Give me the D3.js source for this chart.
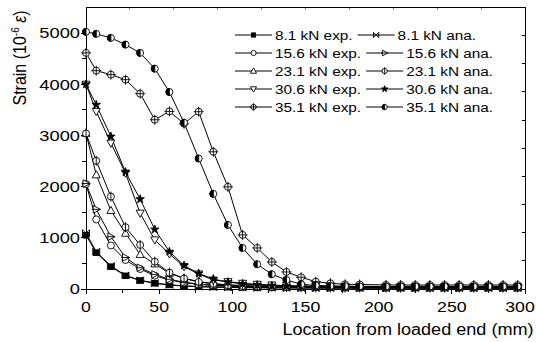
<!DOCTYPE html>
<html><head><meta charset="utf-8">
<script src="https://cdn.jsdelivr.net/npm/d3@7"></script>
<style>
body{margin:0;background:#fff}
svg{display:block}
text{font-family:"Liberation Sans",Arial,Helvetica,sans-serif;fill:#000}
</style>
</head><body>
<svg id="c" width="536" height="342"></svg>
<script>
// ---------------- data ----------------
const xPos = [0,7,17,27,37,47,57,67,77,87,97,107,117,127,137,147,157,167,177,187,205,215,225,235,245,255,265,275,285,295];

const s81exp  = [1050,710,436,258,166,112,80,60,48,40,35,30,28,26,25,24,23,22,21,20,20,20,20,20,20,20,20,20,20,20];
const s81ana  = [1090,730,450,265,170,115,80,58,45,36,30,26,23,21,20,19,18,17,16,15,15,15,15,15,15,15,15,15,15,15];
const s156exp = [2050,1360,851,567,391,260,175,125,95,75,62,54,48,44,40,38,36,34,32,30,30,30,30,30,30,30,30,30,30,30];
const s156ana = [2060,1556,1022,616,415,285,190,130,92,68,52,42,36,32,30,28,26,25,24,23,22,22,22,22,22,22,22,22,22,22];
const s231exp = [3040,2231,1533,1090,675,490,307,209,145,105,82,68,58,52,48,45,42,40,38,36,35,35,35,35,35,35,35,35,35,35];
const s231ana = [3040,2505,1806,1207,861,534,319,205,140,100,75,58,48,42,38,35,33,31,30,29,28,28,28,28,28,28,28,28,28,28];
const s306exp = [4000,3470,2851,2264,1482,959,685,437,294,176,143,112,92,78,68,60,55,52,50,48,45,45,45,45,45,45,45,45,45,45];
const s306ana = [4000,3600,2980,2284,1755,1164,730,460,303,195,135,100,78,64,55,48,44,41,39,37,35,35,35,35,35,35,35,35,35,35];
const s351exp = [4613,4266,4188,4090,3816,3307,3470,3229,3464,2681,1996,1057,802,528,333,229,143,112,92,88,80,78,78,78,78,78,78,78,78,78];
const s351ana = [5024,4985,4906,4775,4613,4305,3849,3249,2550,1859,1252,802,483,288,176,92,70,60,55,52,50,50,50,50,50,50,50,50,50,50];

const seriesNames = ["8.1 kN exp.","8.1 kN ana.","15.6 kN exp.","15.6 kN ana.","23.1 kN exp.","23.1 kN ana.","30.6 kN exp.","30.6 kN ana.","35.1 kN exp.","35.1 kN ana."];
const seriesValues = [s81exp,s81ana,s156exp,s156ana,s231exp,s231ana,s306exp,s306ana,s351exp,s351ana];
const seriesMarkers = ["square","bowtie","circle","rtri","utri","phi","dtri","star","crosscircle","halfcircle"];

const xTickLabels = [0,50,100,150,200,250,300];
const xMinorTicks = [25,75,125,175,225,275];
const yTickLabels = [0,1000,2000,3000,4000,5000];
const yMinorTicks = [500,1500,2500,3500,4500];
const xTitle = "Location from loaded end (mm)";

// ---------------- layout ----------------
const svg = d3.select("#c");
const L = 86, R = 525, T = 7.5, B = 289;
const x = d3.scaleLinear().domain([0,300]).range([L,R]);
const y = d3.scaleLinear().domain([0,5500]).range([B,T]);

function stxt(g, px, py, str, size, sx, anchor){
  return g.append("text")
    .attr("transform",`translate(${px},${py}) scale(${sx},1)`)
    .attr("font-size",size).attr("text-anchor",anchor||"start").text(str);
}

// axes ticks
const ax = svg.append("g").attr("stroke","#000").attr("stroke-width",1).attr("shape-rendering","crispEdges");
ax.selectAll("line.xM").data(xTickLabels).join("line")
  .attr("x1",d=>x(d)).attr("x2",d=>x(d)).attr("y1",B).attr("y2",B+5);
ax.selectAll("line.xm").data(xMinorTicks).join("line").attr("class","xm")
  .attr("x1",d=>x(d)).attr("x2",d=>x(d)).attr("y1",B).attr("y2",B+4);
ax.selectAll("line.yM").data(yTickLabels).join("line").attr("class","yM")
  .attr("x1",L-5).attr("x2",L).attr("y1",d=>y(d)).attr("y2",d=>y(d));
ax.selectAll("line.ym").data(yMinorTicks).join("line").attr("class","ym")
  .attr("x1",L-4).attr("x2",L).attr("y1",d=>y(d)).attr("y2",d=>y(d));
const topTicks = d3.range(30,300,30);
const rightTicks = d3.range(550,5500,550);
ax.selectAll("line.tt").data(topTicks).join("line").attr("class","tt").attr("stroke","#888")
  .attr("x1",d=>x(d)).attr("x2",d=>x(d)).attr("y1",T).attr("y2",T+2);
ax.selectAll("line.rt").data(rightTicks).join("line").attr("class","rt")
  .attr("x1",R-3).attr("x2",R).attr("y1",d=>y(d)).attr("y2",d=>y(d));
ax.append("rect").attr("x",L).attr("y",T).attr("width",R-L).attr("height",B-T).attr("fill","none");

// tick labels
const tl = svg.append("g");
xTickLabels.forEach(d=>stxt(tl, Math.min(x(d), 520), 311.5, String(d), 15, 1.18, "middle"));
yTickLabels.forEach(d=>stxt(tl, 80, y(d)+5.3, String(d), 15, 1.22, "end"));

// titles
stxt(svg, 408, 335, xTitle, 16, 1.13, "middle");
const yt = svg.append("text").attr("transform","translate(25.5,58) scale(1.16,1) rotate(-90)")
  .attr("font-size",16).attr("text-anchor","middle");
yt.append("tspan").text("Strain (10");
yt.append("tspan").attr("font-size",10).attr("dy",-6).text("-6");
yt.append("tspan").attr("dy",6).text(" ");
yt.append("tspan").attr("font-style","italic").text("ε");
yt.append("tspan").text(")");

// markers
function marker(g, type, cx, cy, k){
  k = k || 1;
  const m = g.append("g").attr("transform",`translate(${cx},${cy}) scale(${k})`)
    .attr("stroke","#000").attr("stroke-width",0.9/k).attr("fill","#fff");
  const r = 3.5;
  switch(type){
    case "square": m.append("rect").attr("x",-2.8).attr("y",-2.8).attr("width",5.6).attr("height",5.6).attr("fill","#000"); break;
    case "bowtie": m.append("path").attr("fill","none").attr("d","M-3.5,-3.5L3.5,3.5M-3.5,3.5L3.5,-3.5M-3.5,-3.5L-3.5,3.5M3.5,-3.5L3.5,3.5"); break;
    case "circle": m.append("circle").attr("r",r); break;
    case "rtri": m.append("path").attr("d","M-3,-3.8L4.2,0L-3,3.8Z"); m.append("path").attr("d","M-4.5,0L4.2,0"); break;
    case "utri": m.append("path").attr("d","M0,-4.2L4,3L-4,3Z"); break;
    case "dtri": m.append("path").attr("d","M0,4.2L4,-3L-4,-3Z"); break;
    case "phi": m.append("circle").attr("r",r); m.append("path").attr("d","M0,-5L0,5"); break;
    case "star": m.append("path").attr("fill","#000").attr("d",d3.symbol(d3.symbolStar,22)()); break;
    case "crosscircle": m.append("circle").attr("r",r); m.append("path").attr("d","M-5,0L5,0M0,-5L0,5"); break;
    case "halfcircle":
      m.append("circle").attr("r",r);
      m.append("path").attr("fill","#000").attr("d",`M0,${-r}A${r},${r} 0 0 0 0,${r}Z`); break;
  }
}

// series
const line = d3.line().x((d,i)=>x(xPos[i])).y(d=>y(d));
const pg = svg.append("g");
seriesValues.forEach(vals=>{
  pg.append("path").attr("d",line(vals)).attr("fill","none").attr("stroke","#000").attr("stroke-width",1);
});
seriesValues.forEach((vals,k)=>{
  vals.forEach((v,i)=>marker(pg, seriesMarkers[k], x(xPos[i]), y(v)));
});

// legend
const lg = svg.append("g");
for(let row=0; row<5; row++){
  const cy = 35 + row*18;
  const iE = row*2, iA = row*2+1;
  lg.append("line").attr("x1",235).attr("x2",272).attr("y1",cy).attr("y2",cy).attr("stroke","#000");
  marker(lg, seriesMarkers[iE], 253.5, cy, 0.75);
  const t1 = stxt(lg, 275, cy+4.5, seriesNames[iE], 12, 1.28, "start");
  const w1 = t1.node().getComputedTextLength()*1.28;
  const sx = 275 + w1 + 5;
  lg.append("line").attr("x1",sx).attr("x2",sx+37).attr("y1",cy).attr("y2",cy).attr("stroke","#000");
  marker(lg, seriesMarkers[iA], sx+18.5, cy, 0.75);
  stxt(lg, sx+40, cy+4.5, seriesNames[iA], 12, 1.28, "start");
}
</script>
</body></html>
